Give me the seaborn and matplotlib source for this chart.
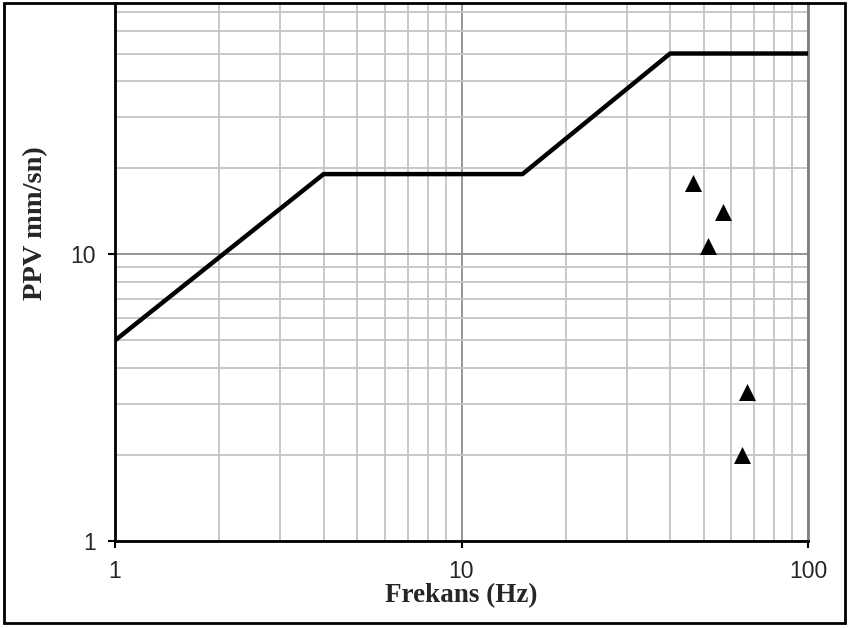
import numpy as np
import pandas as pd
import seaborn as sns
import matplotlib.pyplot as plt
from matplotlib.patches import Rectangle
from matplotlib.ticker import LogLocator, FixedLocator, NullFormatter

# limit curve (frequency Hz, PPV mm/s)
limit_freq = [1, 4, 15, 40, 100]
limit_ppv = [5, 19, 19, 50, 50]

# measured points
meas_freq = [46.5, 57.0, 51.5, 66.5, 64.5]
meas_ppv = [17.7, 14.0, 10.7, 3.3, 2.0]

x_ticks = [1, 10, 100]
y_ticks = [1, 10]

df_limit = pd.DataFrame({'freq': limit_freq, 'ppv': limit_ppv})
df_meas = pd.DataFrame({'freq': meas_freq, 'ppv': meas_ppv})

sns.set_style('white')
plt.rcParams['font.family'] = ['Liberation Sans', 'DejaVu Sans']

fig = plt.figure(figsize=(8.49, 6.28), dpi=100)
ax = fig.add_axes([115/849, 1-541/628, (808-115)/849, (541-3)/628])

ax.set_xscale('log')
ax.set_yscale('log')
ax.set_xlim(1, 100)
ax.set_ylim(1, 75)

# grid
ax.xaxis.set_minor_locator(LogLocator(base=10, subs=np.arange(2, 10)))
ax.yaxis.set_minor_locator(LogLocator(base=10, subs=np.arange(2, 10)))
ax.xaxis.set_minor_formatter(NullFormatter())
ax.yaxis.set_minor_formatter(NullFormatter())
ax.grid(which='minor', color='#c4c4c4', linewidth=1.3)
ax.grid(which='major', color='#8c8c8c', linewidth=1.3)
ax.set_axisbelow(True)

sns.lineplot(data=df_limit, x='freq', y='ppv', color='black', linewidth=3.2, ax=ax, zorder=3)
sns.scatterplot(data=df_meas, x='freq', y='ppv', marker='^', s=150, color='black',
                edgecolor='black', linewidth=0, ax=ax, zorder=4)

ax.xaxis.set_major_locator(FixedLocator(x_ticks))
ax.yaxis.set_major_locator(FixedLocator(y_ticks))
ax.set_xticklabels([str(t) for t in x_ticks])
ax.set_yticklabels([str(t) for t in y_ticks])
ax.tick_params(which='major', direction='out', length=5, width=1.5, color='black',
               labelsize=16.5, pad=9, bottom=True, left=True)
ax.tick_params(which='minor', length=0)

for side in ['left', 'bottom']:
    ax.spines[side].set_color('black')
    ax.spines[side].set_linewidth(2)
ax.spines['right'].set_color('#808080')
ax.spines['right'].set_linewidth(2)
ax.spines['top'].set_visible(False)

ax.set_xlabel('Frekans (Hz)', fontfamily='Liberation Serif', fontweight='bold', fontsize=19.5)
ax.set_ylabel('PPV mm/sn)', fontfamily='Liberation Serif', fontweight='bold', fontsize=20.5)
ax.xaxis.set_label_coords(0.5, -0.079)
ax.yaxis.set_label_coords(-0.097, 0.591)

# outer frame
fig.patches.append(Rectangle((4/849, 1-623/628), (845-4)/849, (622-2)/628,
                             transform=fig.transFigure, fill=False,
                             edgecolor='black', linewidth=2))

fig.savefig('out.png', dpi=100)
